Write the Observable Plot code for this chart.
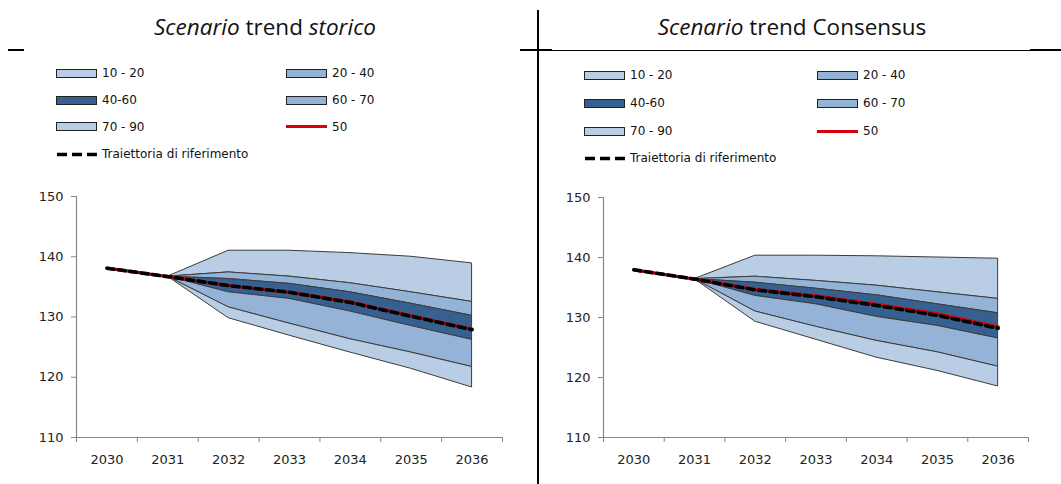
<!DOCTYPE html>
<html>
<head>
<meta charset="utf-8">
<script src="https://cdn.jsdelivr.net/npm/d3@7"></script>
<script src="https://cdn.jsdelivr.net/npm/@observablehq/plot@0.6"></script>
<style>
  html, body { margin: 0; padding: 0; background: #fff; }
  #page { position: relative; width: 1061px; height: 484px; overflow: hidden; background: #fff; }
  .title { position: absolute; top: 13px; font-family: "Open Sans", Lato, sans-serif; font-size: 22.5px; line-height: 28px; color: #111; white-space: nowrap; transform: translateX(-50%); }
  .line { position: absolute; background: #000; }
  .leg { position: absolute; font-family: "DejaVu Sans", sans-serif; font-size: 12px; color: #111; white-space: nowrap; display: flex; align-items: center; }
  .leg svg { margin-right: 5px; }
  .panel { position: absolute; }
</style>
</head>
<body>
<div id="page"></div>
<script>
// ---- data ----
const years = [2030, 2031, 2032, 2033, 2034, 2035, 2036];
const yTicks = [110, 120, 130, 140, 150];

// Scenario trend storico
const storicoMedian = [138.1, 136.7, 135.2, 134.1, 132.5, 130.2, 128.0];
const storicoRef    = [138.1, 136.7, 135.2, 134.1, 132.4, 130.1, 127.9];
const storicoP90 = [null, 136.7, 141.0, 141.0, 140.6, 140.0, 138.9];
const storicoP70 = [null, 136.7, 137.4, 136.7, 135.6, 134.1, 132.5];
const storicoP60 = [null, 136.7, 136.3, 135.5, 134.1, 132.2, 130.2];
const storicoP40 = [null, 136.7, 134.1, 133.0, 130.9, 128.5, 126.2];
const storicoP20 = [null, 136.7, 131.6, 128.9, 126.3, 124.1, 121.7];
const storicoP10 = [null, 136.7, 129.8, 126.9, 124.1, 121.4, 118.3];

// Scenario trend Consensus
const consMedian = [137.95, 136.4, 134.7, 133.6, 132.2, 130.6, 128.45];
const consRef    = [137.95, 136.4, 134.6, 133.45, 132.0, 130.35, 128.2];
const consP90 = [null, 136.4, 140.3, 140.3, 140.2, 140.0, 139.8];
const consP70 = [null, 136.4, 136.8, 136.1, 135.3, 134.2, 133.1];
const consP60 = [null, 136.4, 135.8, 134.8, 133.7, 132.2, 130.7];
const consP40 = [null, 136.4, 133.6, 132.2, 130.1, 128.6, 126.5];
const consP20 = [null, 136.4, 131.0, 128.45, 126.1, 124.2, 121.8];
const consP10 = [null, 136.4, 129.3, 126.3, 123.3, 121.1, 118.5];

const legendLabels = ["10 - 20", "20 - 40", "40-60", "60 - 70", "70 - 90", "50", "Traiettoria di riferimento"];
const titles = [["Scenario", " trend ", "storico", true], ["Scenario", " trend ", "Consensus", false]];

// ---- styles ----
const LIGHT = "#b9cde5", MED = "#95b3d7", DARK = "#36608f", RED = "#d7000f", EDGE = "#3c3c3c", AXIS = "#868686";

const page = document.getElementById("page");

function addLine(l, t, w, h) {
  const d = document.createElement("div");
  d.className = "line";
  Object.assign(d.style, {left: l + "px", top: t + "px", width: w + "px", height: h + "px"});
  page.appendChild(d);
}
// table borders
addLine(537, 10, 2, 474);
addLine(8, 49, 16, 2);
addLine(520, 49, 32, 2);
addLine(552, 50, 509, 1);
addLine(1030, 49, 31, 2);

function addTitle(cx, t) {
  const d = document.createElement("div");
  d.className = "title";
  d.style.left = cx + "px";
  d.innerHTML = `<i>${t[0]}</i>${t[1]}${t[3] ? "<i>" + t[2] + "</i>" : t[2]}`;
  page.appendChild(d);
}
addTitle(265, titles[0]);
addTitle(792, titles[1]);

function swatch(kind, color) {
  if (kind === "band") return `<svg width="41" height="9"><rect x="0.5" y="0.5" width="40" height="8" fill="${color}" stroke="#222" stroke-width="1"/></svg>`;
  if (kind === "red") return `<svg width="41" height="9"><line x1="0" x2="41" y1="4.5" y2="4.5" stroke="${RED}" stroke-width="3"/></svg>`;
  return `<svg width="41" height="9"><line x1="1" x2="41" y1="4.5" y2="4.5" stroke="#000" stroke-width="3.5" stroke-dasharray="10,5"/></svg>`;
}
function addLegend(x1, x2, rows) {
  const items = [
    [x1, rows[0], "band", LIGHT, legendLabels[0]],
    [x2, rows[0], "band", MED, legendLabels[1]],
    [x1, rows[1], "band", DARK, legendLabels[2]],
    [x2, rows[1], "band", MED, legendLabels[3]],
    [x1, rows[2], "band", LIGHT, legendLabels[4]],
    [x2, rows[2], "red", RED, legendLabels[5]],
    [x1, rows[3], "dash", "#000", legendLabels[6]]
  ];
  for (const [x, y, kind, c, lab] of items) {
    const d = document.createElement("div");
    d.className = "leg";
    d.style.left = x + "px";
    d.style.top = (y - 8) + "px";
    d.style.height = "16px";
    d.innerHTML = swatch(kind, c) + `<span>${lab}</span>`;
    page.appendChild(d);
  }
}
addLegend(56, 286, [73, 100, 126.5, 154]);
addLegend(584, 817, [75, 103, 131, 158]);

function makePanel(left, top, marginLeft, marginRight, marginTop, marginBottom, median, ref, p90, p70, p60, p40, p20, p10) {
  const rows = years.map((yr, i) => ({year: yr, median: median[i], ref: ref[i], p90: p90[i], p70: p70[i], p60: p60[i], p40: p40[i], p20: p20[i], p10: p10[i]}));
  const fan = rows.filter(d => d.p90 != null);
  const bounds = d3.range(years[0] - 0.5, years[years.length - 1] + 1, 1);
  const band = (lo, hi, fill) => Plot.areaY(fan, {x: "year", y1: lo, y2: hi, fill, stroke: EDGE, strokeWidth: 1, strokeLinejoin: "round"});
  const chart = Plot.plot({
    width: 520, height: 300,
    marginLeft, marginRight, marginTop, marginBottom,
    style: {fontFamily: "DejaVu Sans, sans-serif", fontSize: "13px", color: "#222", background: "transparent"},
    x: {type: "linear", domain: [bounds[0], bounds[bounds.length - 1]]},
    y: {domain: [110, 150]},
    marks: [
      band("p70", "p90", LIGHT),
      band("p60", "p70", MED),
      band("p40", "p60", DARK),
      band("p20", "p40", MED),
      band("p10", "p20", LIGHT),
      Plot.line(rows, {x: "year", y: "median", stroke: RED, strokeWidth: 3.2}),
      Plot.line(rows, {x: "year", y: "ref", stroke: "#000", strokeWidth: 3.6, strokeDasharray: "7,4.5"}),
      Plot.ruleY([110], {stroke: AXIS, strokeWidth: 1.2}),
      Plot.ruleX([bounds[0]], {stroke: AXIS, strokeWidth: 1.2}),
      Plot.axisY({ticks: yTicks, tickSize: 5, tickPadding: 8, stroke: AXIS, fill: "#222", tickFormat: d => String(d), label: null}),
      Plot.axisX({ticks: bounds, tickSize: 5, stroke: AXIS, tickFormat: () => "", label: null}),
      Plot.axisX({ticks: years, tickSize: 0, tickPadding: 17, fill: "#222", tickFormat: d => String(d), label: null})
    ]
  });
  chart.classList.add("panel");
  chart.style.left = left + "px";
  chart.style.top = top + "px";
  chart.style.position = "absolute";
  page.appendChild(chart);
}

makePanel(0, 180, 76, 18, 16, 43,
  storicoMedian, storicoRef, storicoP90, storicoP70, storicoP60, storicoP40, storicoP20, storicoP10);
makePanel(528, 180, 75, 20, 17, 43,
  consMedian, consRef, consP90, consP70, consP60, consP40, consP20, consP10);
</script>
</body>
</html>
